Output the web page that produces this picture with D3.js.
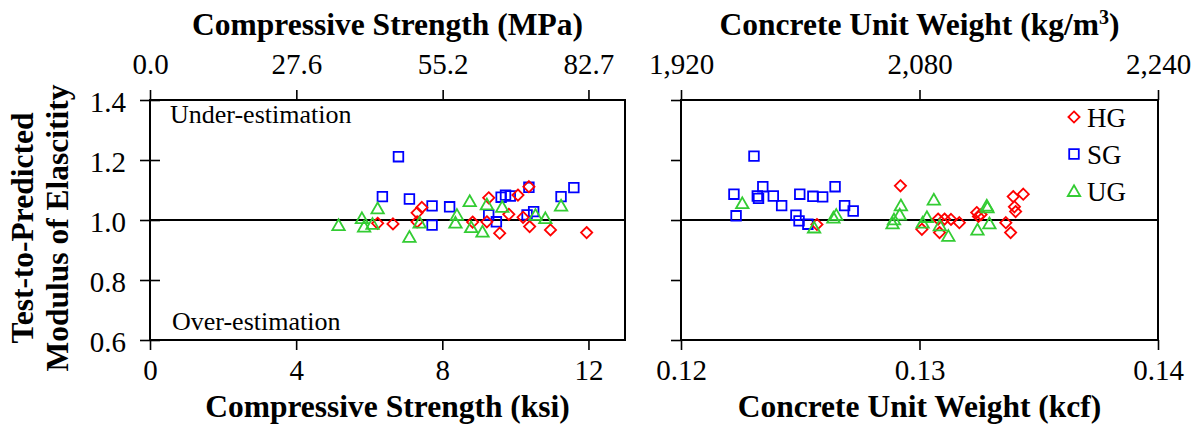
<!DOCTYPE html>
<html>
<head>
<meta charset="utf-8">
<script src="https://cdn.jsdelivr.net/npm/d3@7"></script>
<style>
  html, body { margin: 0; padding: 0; background: #fff; }
  svg { display: block; }
  svg text { font-family: "Liberation Serif", "Times New Roman", serif !important; fill: #000; }
</style>
</head>
<body>
<svg id="chart" width="1203" height="428"></svg>
<script>
// ---- data: test-to-predicted modulus ratio vs. strength (ksi) ----
const hgStrength = [
  [6.23, 0.989], [6.65, 0.987], [7.31, 1.024], [7.44, 1.042], [7.31, 0.994],
  [8.83, 0.993], [9.22, 0.994], [9.27, 1.074], [9.57, 0.956], [9.82, 1.019],
  [10.07, 1.083], [10.21, 1.009], [10.37, 1.111], [10.39, 0.978], [10.96, 0.967],
  [11.95, 0.958]
];
const sgStrength = [
  [6.80, 1.211], [6.36, 1.078], [7.10, 1.070], [7.72, 1.047], [8.20, 1.044],
  [7.72, 0.983], [9.27, 1.017], [9.48, 0.994], [9.61, 1.076], [9.73, 1.083],
  [9.86, 1.080], [10.37, 1.109], [10.32, 1.017], [10.50, 1.028], [11.25, 1.078],
  [11.60, 1.108]
];
const ugStrength = [
  [5.16, 0.983], [5.80, 1.006], [5.86, 0.978], [6.09, 0.987], [6.23, 1.039],
  [7.10, 0.944], [7.38, 0.991], [8.36, 0.991], [8.40, 1.017], [8.75, 1.063],
  [8.79, 0.976], [9.10, 0.961], [9.22, 1.052], [9.64, 1.044], [10.55, 1.017],
  [10.82, 1.006], [11.25, 1.048]
];

// ---- data: same ratio vs. concrete unit weight (kcf) ----
const hgWeight = [
  [0.12570, 0.985], [0.12920, 1.114], [0.13010, 0.969], [0.13078, 1.003],
  [0.13084, 0.958], [0.13105, 1.003], [0.13132, 1.002], [0.13167, 0.991],
  [0.13240, 1.025], [0.13247, 1.012], [0.13258, 1.018], [0.13362, 0.991],
  [0.13382, 0.958], [0.13393, 1.078], [0.13398, 1.044], [0.13403, 1.028],
  [0.13435, 1.086]
];
const sgWeight = [
  [0.12222, 1.086], [0.12231, 1.014], [0.12306, 1.213], [0.12320, 1.080],
  [0.12325, 1.072], [0.12343, 1.111], [0.12387, 1.080], [0.12422, 1.048],
  [0.12482, 1.016], [0.12495, 0.997], [0.12532, 0.986], [0.12498, 1.086],
  [0.12553, 1.079], [0.12594, 1.077], [0.12646, 1.111], [0.12686, 1.048],
  [0.12722, 1.030]
];
const ugWeight = [
  [0.12257, 1.056], [0.12558, 0.975], [0.12639, 1.008], [0.12651, 1.017],
  [0.12887, 0.989], [0.12893, 1.002], [0.12917, 1.018], [0.12922, 1.049],
  [0.13013, 0.991], [0.13031, 1.010], [0.13060, 1.068], [0.13085, 0.982],
  [0.13121, 0.947], [0.13243, 0.968], [0.13282, 1.048], [0.13285, 1.042],
  [0.13293, 0.989]
];

// ---- axis ticks and labels ----
const ratioTicks = [0.6, 0.8, 1.0, 1.2, 1.4];
const ksiTicks = [0, 4, 8, 12];
const mpaTicks = [0, 27.6, 55.2, 82.7];
const kcfTicks = [0.12, 0.13, 0.14];
const kgTicks = [1920, 2080, 2240];
const seriesNames = ["HG", "SG", "UG"];
const seriesColors = { HG: "#ff0000", SG: "#0000ff", UG: "#33cc33" };

const SERIF = '"Liberation Serif", "Times New Roman", serif';
const svg = d3.select("#chart").style("font-family", SERIF);
const FONT_TICK = 29, FONT_TITLE = 31.5;

// scales
const y = d3.scaleLinear().domain([0.6, 1.4]).range([340, 100]);
const xKsi = d3.scaleLinear().domain([0, 13]).range([150, 625]);
const xMpa = d3.scaleLinear().domain([0, 82.7 * 13 / 12]).range([150, 625]);
const xKcf = d3.scaleLinear().domain([0.12, 0.14]).range([681, 1158]);
const xKg = d3.scaleLinear().domain([1920, 2240]).range([681, 1158]);

// marker shapes, centred on their bounding box
const markerPath = {
  HG: "M0,-5.6L5.6,0L0,5.6L-5.6,0Z",
  SG: "M-4.8,-4.8H4.8V4.8H-4.8Z",
  UG: "M0,-5.8L6.2,5.0H-6.2Z"
};

function styleAxis(g, size) {
  g.attr("font-family", SERIF).style("font-family", SERIF);
  g.select(".domain").remove();
  g.selectAll(".tick line").attr("stroke", "#000").attr("stroke-width", 1.6);
  g.selectAll(".tick text").attr("font-size", size).attr("fill", "#000")
    .style("font-family", SERIF);
}

function panel(opts) {
  const g = svg.append("g");
  const [x0, x1] = opts.x.range();
  const [yb, yt] = y.range();

  // bottom axis
  const bottom = g.append("g").attr("transform", `translate(0,${yb})`)
    .call(d3.axisBottom(opts.x).tickValues(opts.bottomTicks)
      .tickFormat(opts.bottomFmt).tickSize(10).tickSizeOuter(0));
  styleAxis(bottom, FONT_TICK);
  bottom.selectAll(".tick text").attr("y", 40).attr("dy", null);

  // top axis (SI units)
  const top = g.append("g").attr("transform", `translate(0,${yt})`)
    .call(d3.axisTop(opts.xTop).tickValues(opts.topTicks)
      .tickFormat(opts.topFmt).tickSize(10).tickSizeOuter(0));
  styleAxis(top, FONT_TICK);
  top.selectAll(".tick text").attr("y", -26).attr("dy", null);

  // left axis
  const left = g.append("g").attr("transform", `translate(${x0},0)`)
    .call(d3.axisLeft(y).tickValues(ratioTicks)
      .tickFormat(opts.showY ? d3.format(".1f") : "").tickSize(10).tickSizeOuter(0));
  styleAxis(left, FONT_TICK);
  left.selectAll(".tick text").attr("x", -24).attr("dy", "0.38em");
  if (opts.crossTicks) left.selectAll(".tick line").attr("x1", 10);

  // reference line at ratio = 1
  g.append("line")
    .attr("x1", x0).attr("x2", x1).attr("y1", y(1)).attr("y2", y(1))
    .attr("stroke", "#000").attr("stroke-width", 1.8);

  // frame
  g.append("rect")
    .attr("x", x0).attr("y", yt).attr("width", x1 - x0).attr("height", yb - yt)
    .attr("fill", "none").attr("stroke", "#000").attr("stroke-width", 2);

  // points: SG first, then HG, then UG on top
  [["SG", opts.sg], ["HG", opts.hg], ["UG", opts.ug]].forEach(([name, data]) => {
    g.append("g").selectAll("path").data(data).join("path")
      .attr("d", markerPath[name])
      .attr("transform", d => `translate(${opts.x(d[0])},${y(d[1])})`)
      .attr("fill", "none")
      .attr("stroke", seriesColors[name])
      .attr("stroke-width", 1.8);
  });

  // axis titles
  const cx = (x0 + x1) / 2;
  const topTitle = g.append("text").attr("x", cx).attr("y", 35)
    .attr("text-anchor", "middle").attr("font-size", FONT_TITLE).attr("font-weight", "bold");
  opts.topTitle(topTitle);
  g.append("text").attr("x", cx).attr("y", 417)
    .attr("text-anchor", "middle").attr("font-size", FONT_TITLE).attr("font-weight", "bold")
    .text(opts.bottomTitle);
  return g;
}

const leftPanel = panel({
  x: xKsi, xTop: xMpa,
  bottomTicks: ksiTicks, bottomFmt: d3.format("d"),
  topTicks: mpaTicks, topFmt: d3.format(".1f"),
  showY: true, crossTicks: true,
  hg: hgStrength, sg: sgStrength, ug: ugStrength,
  topTitle: t => t.text("Compressive Strength (MPa)"),
  bottomTitle: "Compressive Strength (ksi)"
});

leftPanel.append("text").attr("x", 170).attr("y", 123)
  .attr("font-size", 26).text("Under-estimation");
leftPanel.append("text").attr("x", 172).attr("y", 330)
  .attr("font-size", 26).text("Over-estimation");

const rightPanel = panel({
  x: xKcf, xTop: xKg,
  bottomTicks: kcfTicks, bottomFmt: d3.format(".2f"),
  topTicks: kgTicks, topFmt: d3.format(","),
  showY: false, crossTicks: false,
  hg: hgWeight, sg: sgWeight, ug: ugWeight,
  topTitle: t => {
    t.append("tspan").text("Concrete Unit Weight (kg/m");
    t.append("tspan").attr("dy", -11).attr("font-size", 20).text("3");
    t.append("tspan").attr("dy", 11).text(")");
  },
  bottomTitle: "Concrete Unit Weight (kcf)"
});

// legend
const legend = rightPanel.append("g");
seriesNames.forEach((name, i) => {
  const ly = 117 + i * 37;
  legend.append("path").attr("d", markerPath[name])
    .attr("transform", `translate(1074,${ly})`)
    .attr("fill", "none").attr("stroke", seriesColors[name]).attr("stroke-width", 1.8);
  legend.append("text").attr("x", 1087).attr("y", ly + 9.5)
    .attr("font-size", 27).text(name);
});

// y-axis title (two lines)
const yTitle = svg.append("text")
  .attr("transform", "translate(0,228) rotate(-90)")
  .attr("text-anchor", "middle").attr("font-size", FONT_TITLE).attr("font-weight", "bold");
yTitle.append("tspan").attr("x", 0).attr("y", 33).text("Test-to-Predicted");
yTitle.append("tspan").attr("x", 0).attr("y", 68).text("Modulus of Elascitity");
</script>
</body>
</html>
